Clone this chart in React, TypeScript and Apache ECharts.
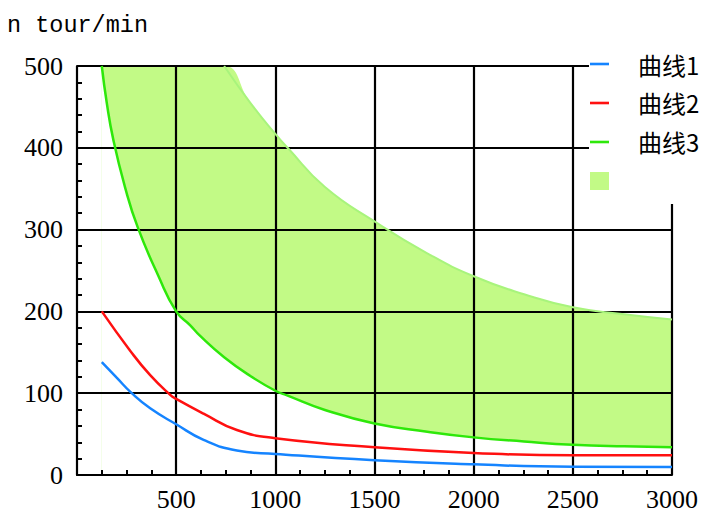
import React, { useEffect, useRef } from "react";
import * as echarts from "echarts";

// 曲线1 (blue)
const X1 = [125, 200, 276, 369, 500, 638, 806, 1000, 1500, 2000, 2500, 3000];
const Y1 = [138, 119, 100, 81.5, 62, 43, 30, 25.8, 18, 13, 10, 9.7];
// 曲线2 (red)
const X2 = [125, 268, 369, 470, 500, 638, 806, 1000, 1500, 2000, 2500, 3000];
const Y2 = [200, 152, 122, 98, 93, 75, 55, 45, 34, 27, 24, 24];
// 曲线3 (green) and the band's upper bound, sampled at the same x
const X3 = [125, 150, 183, 242, 306, 411, 500, 571, 621, 742, 874, 1000, 1062, 1250, 1500, 1766, 2000, 2254, 2500, 2759, 3000];
const Y3 = [500, 455, 410, 352, 303, 243, 200, 183, 170, 144, 121, 103, 97, 79.5, 63, 53, 46, 41, 37, 35, 34];
const UPPER = [500, 500, 500, 500, 500, 500, 500, 500, 500, 500, 455, 417, 400, 352, 310, 271, 243, 221, 205, 196.5, 190];

const X_TICKS = [0, 3000, 500];
const Y_TICKS = [0, 500, 100];

const BLUE = "#1584ff";
const RED = "#ff1010";
const GREEN = "#2ee80a";
const FILL = "#c2fa86";
const EDGE = "#a8f47c";

const LINE_ICON = "path://M0,0L19,0L19,2.6L0,2.6Z";

export default function App() {
  const ref = useRef<HTMLDivElement>(null);
  useEffect(() => {
    if (!ref.current) return;
    const chart = echarts.init(ref.current, undefined, { renderer: "svg" });
    const pts = (xs: number[], ys: number[]) => xs.map((x, i) => [x, ys[i]]);
    const edge = X3.map((x, i) => [x, UPPER[i]]).filter((p) => p[0] >= 742);
    const SM = 0.5;
    const labelFont = { fontFamily: "Liberation Serif", fontSize: 26, color: "#000" };
    chart.setOption({
      animation: false,
      backgroundColor: "#fff",
      title: {
        text: "n tour/min",
        left: 2,
        top: 8,
        textStyle: {
          fontFamily: "Liberation Mono, Courier New, Courier, monospace",
          fontSize: 23.5,
          fontWeight: "normal",
          color: "#000",
        },
      },
      grid: { left: 77, right: 35, top: 66, bottom: 33, containLabel: false },
      legend: {
        orient: "vertical",
        left: 589,
        top: 40,
        padding: [12, 10, 11, 1],
        backgroundColor: "#fff",
        itemWidth: 19,
        itemHeight: 18,
        itemGap: 15,
        textStyle: {
          fontFamily: "Noto Sans CJK SC",
          fontSize: 24,
          lineHeight: 22,
          color: "#000",
          padding: [0, 0, 0, 24],
        },
        data: [
          { name: "曲线1", icon: LINE_ICON, itemStyle: { color: BLUE } },
          { name: "曲线2", icon: LINE_ICON, itemStyle: { color: RED } },
          { name: "曲线3", icon: LINE_ICON, itemStyle: { color: GREEN } },
          { name: " ", icon: "rect", itemStyle: { color: FILL } },
        ],
      },
      xAxis: {
        type: "value",
        min: X_TICKS[0],
        max: X_TICKS[1],
        interval: X_TICKS[2],
        axisLine: { show: true, lineStyle: { color: "#000", width: 2 } },
        axisTick: { show: false, inside: true },
        minorTick: { show: true, splitNumber: 4, length: 5, lineStyle: { color: "#000", width: 2 } },
        splitLine: { show: true, lineStyle: { color: "#000", width: 2.2 } },
        axisLabel: { ...labelFont, margin: 11, showMinLabel: false, formatter: (v: number) => String(v) },
      },
      yAxis: {
        type: "value",
        min: Y_TICKS[0],
        max: Y_TICKS[1],
        interval: Y_TICKS[2],
        axisLine: { show: true, lineStyle: { color: "#000", width: 2 } },
        axisTick: { show: false, inside: true },
        minorTick: { show: true, splitNumber: 5, length: 5, lineStyle: { color: "#000", width: 2 } },
        splitLine: { show: true, lineStyle: { color: "#000", width: 2.2 } },
        axisLabel: { ...labelFont, margin: 14, formatter: (v: number) => String(v) },
      },
      series: [
        {
          name: " ",
          type: "line",
          data: pts(X3, UPPER),
          smooth: SM,
          symbol: "none",
          lineStyle: { width: 0, opacity: 0 },
          itemStyle: { color: FILL },
          areaStyle: { color: FILL, opacity: 1 },
          z: -2,
        },
        {
          name: "mask",
          type: "line",
          data: pts(X3, Y3),
          smooth: SM,
          symbol: "none",
          lineStyle: { width: 0, opacity: 0 },
          itemStyle: { color: "#fff" },
          areaStyle: { color: "#fff", opacity: 1 },
          z: -1,
        },
        {
          name: "upper",
          type: "line",
          data: edge,
          smooth: SM,
          symbol: "none",
          lineStyle: { color: EDGE, width: 2 },
          itemStyle: { color: EDGE },
          z: 2,
        },
        {
          name: "曲线3",
          type: "line",
          data: pts(X3, Y3),
          smooth: SM,
          symbol: "none",
          lineStyle: { color: GREEN, width: 2.5 },
          itemStyle: { color: GREEN },
          z: 3,
        },
        {
          name: "曲线1",
          type: "line",
          data: pts(X1, Y1),
          smooth: SM,
          symbol: "none",
          lineStyle: { color: BLUE, width: 2.5 },
          itemStyle: { color: BLUE },
          z: 3,
        },
        {
          name: "曲线2",
          type: "line",
          data: pts(X2, Y2),
          smooth: SM,
          symbol: "none",
          lineStyle: { color: RED, width: 2.5 },
          itemStyle: { color: RED },
          z: 3,
        },
      ],
    });
    return () => chart.dispose();
  }, []);
  return <div ref={ref} style={{ position: "fixed", left: 0, top: 0, width: 707, height: 512 }} />;
}
